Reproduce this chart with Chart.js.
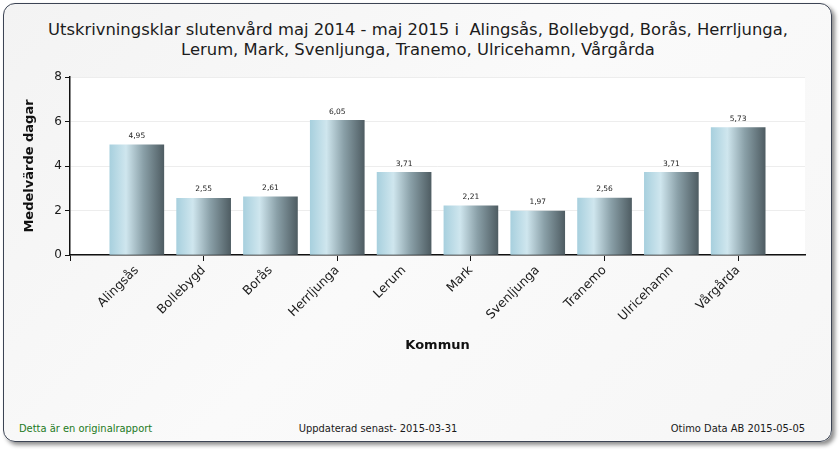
<!DOCTYPE html>
<html>
<head>
<meta charset="utf-8">
<script src="https://cdn.jsdelivr.net/npm/chart.js@4/dist/chart.umd.min.js"></script>
<style>
  html,body{margin:0;padding:0;background:#ffffff;}
  #wrap{position:relative;width:840px;height:450px;overflow:hidden;}
  #frame{position:absolute;left:3px;top:3px;width:827px;height:437px;border:1px solid #3c4454;border-radius:12px;
    box-shadow:3px 3px 4px rgba(0,0,0,0.45);background:linear-gradient(135deg,#f3f3f3 0%,#fafafa 50%,#f6f6f6 100%);}
  #title{position:absolute;left:0;top:20px;width:836px;text-align:center;font-family:"DejaVu Sans",Verdana,sans-serif;
    font-size:16.4px;line-height:20px;color:#1c1c1c;}
  .foot{position:absolute;top:422px;font-family:"Liberation Sans Narrow","DejaVu Sans Condensed",sans-serif;font-size:11px;color:#1a1a1a;}
  canvas{position:absolute;left:0;top:0;}
</style>
</head>
<body>
<div id="wrap">
  <div id="frame"></div>
  <div id="title">Utskrivningsklar slutenvård maj 2014 - maj 2015 i&nbsp; Alingsås, Bollebygd, Borås, Herrljunga,<br>Lerum, Mark, Svenljunga, Tranemo, Ulricehamn, Vårgårda</div>
  <div class="foot" style="left:19px;color:#1d7a1d;">Detta är en originalrapport</div>
  <div class="foot" style="left:278px;width:200px;text-align:center;">Uppdaterad senast- 2015-03-31</div>
  <div class="foot" style="right:35px;text-align:right;">Otimo Data AB 2015-05-05</div>
  <canvas id="c" width="840" height="450"></canvas>
</div>
<script>
const categories = ["Alingsås","Bollebygd","Borås","Herrljunga","Lerum","Mark","Svenljunga","Tranemo","Ulricehamn","Vårgårda"];
const values = [4.95, 2.55, 2.61, 6.05, 3.71, 2.21, 1.97, 2.56, 3.71, 5.73];
const yTicks = [0, 2, 4, 6, 8];
const xTitle = "Kommun";
const yTitle = "Medelvärde dagar";

// padded with one empty slot on each side, as in the reference axis
const labels = [""].concat(categories, [""]);
const data = [null].concat(values, [null]);

const BAR_W = 54;

const plotBg = {
  id: 'plotBg',
  beforeDraw(chart){
    const {ctx, chartArea:a} = chart;
    ctx.save();
    ctx.fillStyle = '#ffffff';
    ctx.fillRect(a.left, a.top, a.right - a.left, a.bottom - a.top);
    ctx.restore();
  }
};

const valueLabels = {
  id: 'valueLabels',
  afterDatasetsDraw(chart){
    const {ctx} = chart;
    const meta = chart.getDatasetMeta(0);
    ctx.save();
    ctx.font = '7.5px "DejaVu Sans", sans-serif';
    ctx.fillStyle = '#222';
    ctx.textAlign = 'center';
    ctx.textBaseline = 'bottom';
    meta.data.forEach((el, i) => {
      const v = chart.data.datasets[0].data[i];
      if (v === null || v === undefined) return;
      ctx.fillText(v.toFixed(2).replace('.', ','), el.x, el.y - 5);
    });
    ctx.restore();
  }
};

function barGradient(ctx){
  const chart = ctx.chart;
  if (!chart.chartArea || !chart.scales.x) return '#9bb3bb';
  const x = chart.scales.x.getPixelForValue(ctx.dataIndex);
  const g = chart.ctx.createLinearGradient(x - BAR_W/2, 0, x + BAR_W/2, 0);
  g.addColorStop(0, '#a8d0de');
  g.addColorStop(0.3, '#cfe6ee');
  g.addColorStop(0.62, '#8aa0a8');
  g.addColorStop(1, '#4f5d63');
  return g;
}

new Chart(document.getElementById('c'), {
  type: 'bar',
  data: {
    labels: labels,
    datasets: [{
      data: data,
      backgroundColor: barGradient,
      borderWidth: 0,
      barThickness: BAR_W
    }]
  },
  options: {
    responsive: false,
    animation: false,
    layout: { padding: { left: 0, right: 35, top: 77, bottom: 95 } },
    plugins: { legend: { display: false }, tooltip: { enabled: false }, title: { display: false } },
    scales: {
      x: {
        type: 'category',
        offset: false,
        grid: {
          offset: false,
          drawOnChartArea: false,
          tickLength: 6,
          tickColor: (c) => (c.index % 2 === 0 && c.index < labels.length - 1) ? '#111' : 'rgba(0,0,0,0)'
        },
        border: { color: '#111', width: 1.5 },
        ticks: {
          autoSkip: false,
          maxRotation: 45,
          minRotation: 45,
          color: '#1a1a1a',
          font: { family: '"DejaVu Sans", sans-serif', size: 12.5 },
          padding: 2
        },
        title: {
          display: true,
          text: xTitle,
          color: '#111',
          font: { family: '"DejaVu Sans", sans-serif', size: 13, weight: 'bold' },
          padding: { top: 0, bottom: 2 }
        },
        afterFit(scale){ scale.height = 100; }
      },
      y: {
        min: 0,
        max: 8,
        afterBuildTicks(scale){ scale.ticks = yTicks.map(v => ({ value: v })); },
        grid: { color: '#ededed', tickColor: '#111', tickLength: 5 },
        border: { color: '#111', width: 1.5 },
        ticks: {
          color: '#1a1a1a',
          font: { family: '"DejaVu Sans", sans-serif', size: 12 },
          padding: 3
        },
        title: {
          display: true,
          text: yTitle,
          color: '#111',
          font: { family: '"DejaVu Sans", sans-serif', size: 13, weight: 'bold' },
          padding: { top: 22, bottom: 0 }
        },
        afterFit(scale){ scale.width = 70; }
      }
    }
  },
  plugins: [plotBg, valueLabels]
});
</script>
</body>
</html>
